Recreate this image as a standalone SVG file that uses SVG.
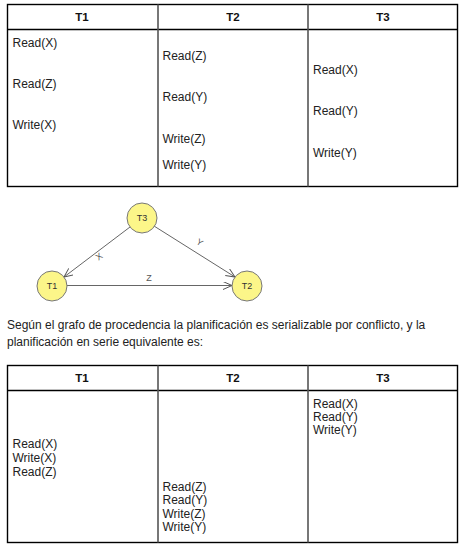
<svg xmlns="http://www.w3.org/2000/svg" width="466" height="551" viewBox="0 0 466 551">
<style>
text{font-family:"Liberation Sans",Arial,sans-serif;fill:#222}
.c{font-size:12px}
.h{font-size:11.5px;font-weight:bold;text-anchor:middle;fill:#111}
.b{fill:none;stroke:#000;stroke-width:1.4}
.d{stroke:#555;stroke-width:1.6}
.n circle{fill:#fcf689;stroke:#777;stroke-width:1}
.n text{font-size:9px;text-anchor:middle;fill:#333}
.e{fill:none;stroke:#666;stroke-width:1}
.lbl{font-size:9px;fill:#555;text-anchor:middle}
</style>
<defs>
<marker id="ar" markerUnits="userSpaceOnUse" markerWidth="12" markerHeight="10" refX="9" refY="4" orient="auto">
<path d="M0,0 L9,4 L0,8" fill="none" stroke="#555" stroke-width="1"/>
</marker>
</defs>
<rect width="466" height="551" fill="#fff"/>
<g id="table1">
<rect class="b" x="7.5" y="4.5" width="450" height="182"/>
<line class="b" x1="7.5" y1="29.5" x2="457.5" y2="29.5"/>
<line class="d" x1="158" y1="4.5" x2="158" y2="186.5"/>
<line class="d" x1="308" y1="4.5" x2="308" y2="186.5"/>
<text class="h" x="82" y="21">T1</text>
<text class="h" x="233" y="21">T2</text>
<text class="h" x="383" y="21">T3</text>
<text class="c" x="12.5" y="47">Read(X)</text>
<text class="c" x="12.5" y="88">Read(Z)</text>
<text class="c" x="12.5" y="129">Write(X)</text>
<text class="c" x="162.5" y="60">Read(Z)</text>
<text class="c" x="162.5" y="101">Read(Y)</text>
<text class="c" x="162.5" y="143">Write(Z)</text>
<text class="c" x="162.5" y="169">Write(Y)</text>
<text class="c" x="313" y="74">Read(X)</text>
<text class="c" x="313" y="115">Read(Y)</text>
<text class="c" x="313" y="157">Write(Y)</text>
</g>
<g id="connectors">
<line class="e" x1="130" y1="227" x2="64" y2="277" marker-end="url(#ar)"/>
<line class="e" x1="154" y1="226" x2="235" y2="277" marker-end="url(#ar)"/>
<line class="e" x1="67" y1="285.5" x2="232" y2="285.5" stroke="#888" stroke-width="2" marker-end="url(#ar)"/>
<text class="lbl" transform="translate(101,259) rotate(-37)">X</text>
<text class="lbl" transform="translate(198,245) rotate(33)">Y</text>
<text class="lbl" x="149" y="281">Z</text>
</g>
<g id="T3" class="n"><circle cx="142" cy="218" r="15"/><text x="142" y="221">T3</text></g>
<g id="T1" class="n"><circle cx="52" cy="286" r="15"/><text x="52" y="289">T1</text></g>
<g id="T2" class="n"><circle cx="247" cy="286" r="15"/><text x="247" y="289">T2</text></g>
<g id="para">
<text class="c" x="7" y="329">Según el grafo de procedencia la planificación es serializable por conflicto, y la</text>
<text class="c" x="7" y="346">planificación en serie equivalente es:</text>
</g>
<g id="table2">
<rect class="b" x="7.5" y="365.5" width="450" height="177"/>
<line class="b" x1="7.5" y1="390.5" x2="457.5" y2="390.5"/>
<line class="d" x1="158" y1="365.5" x2="158" y2="542.5"/>
<line class="d" x1="308" y1="365.5" x2="308" y2="542.5"/>
<text class="h" x="82" y="382">T1</text>
<text class="h" x="233" y="382">T2</text>
<text class="h" x="383" y="382">T3</text>
<text class="c" x="12.5" y="448">Read(X)</text>
<text class="c" x="12.5" y="462">Write(X)</text>
<text class="c" x="12.5" y="476">Read(Z)</text>
<text class="c" x="162.5" y="491">Read(Z)</text>
<text class="c" x="162.5" y="504">Read(Y)</text>
<text class="c" x="162.5" y="517.5">Write(Z)</text>
<text class="c" x="162.5" y="531">Write(Y)</text>
<text class="c" x="313" y="407.5">Read(X)</text>
<text class="c" x="313" y="421">Read(Y)</text>
<text class="c" x="313" y="434">Write(Y)</text>
</g>
</svg>
